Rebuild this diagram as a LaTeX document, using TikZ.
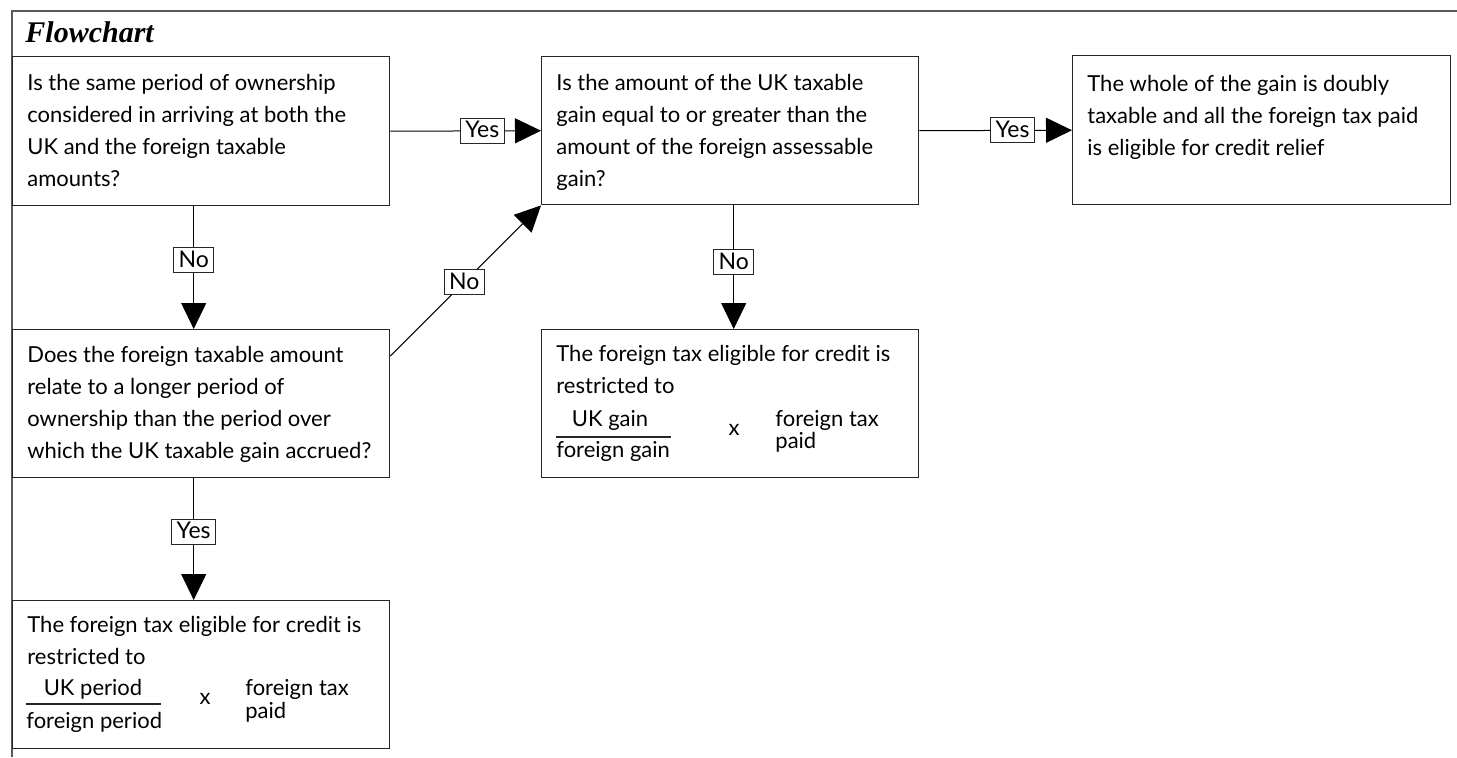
\documentclass[tikz,border=0pt]{standalone}
\usepackage{fontspec}
\setmainfont{Lato}
\newfontfamily\titlefont{Liberation Serif}
\usetikzlibrary{arrows.meta}
\begin{document}
\begin{tikzpicture}[x=0.5pt,y=-0.5pt,
 box/.style={draw=black!85, line width=0.7pt, anchor=north west, inner sep=0pt},
 txt/.style={anchor=base west, align=left, inner sep=0pt, font=\fontsize{11}{16}\selectfont},
 frc/.style={inner sep=0pt, font=\fontsize{11}{16}\selectfont},
 tight/.style={anchor=base west, align=left, inner sep=0pt, font=\fontsize{11}{11.25}\selectfont},
 lbl/.style={draw=black!85, line width=0.5pt, fill=white, inner xsep=2.4pt, inner ysep=1.5pt,
   text height=8.2pt, text depth=1.3pt, font=\fontsize{11.5}{12}\selectfont},
 arr/.style={line width=0.5pt, -{Triangle[length=13pt,width=12.5pt]}},
]
\useasboundingbox (0,0) rectangle (1457,757);
\draw[black!65, line width=1pt] (1457,11) -- (12,11) -- (12,757);
\node[anchor=base west, inner sep=0pt, font=\titlefont\bfseries\itshape\fontsize{15}{16}\selectfont] (title) at (25,42) {Flowchart};

% boxes
\node[box, minimum width=188.5pt, minimum height=74.5pt] (b1) at (12,56) {};
\node[box, minimum width=188.5pt, minimum height=74pt] (b2) at (541,56) {};
\node[box, minimum width=189pt, minimum height=74.5pt] (b3) at (1072,55) {};
\node[box, minimum width=188.5pt, minimum height=74pt] (b4) at (12,329) {};
\node[box, minimum width=188.5pt, minimum height=74pt] (b5) at (12,600) {};
\node[box, minimum width=188.5pt, minimum height=74pt] (b6) at (541,329) {};

% texts (anchored at the baseline of their last line)
\node[txt] (t1) at (27,186) {Is the same period of ownership\\considered in arriving at both the\\UK and the foreign taxable\\amounts?};
\node[txt] (t2) at (556,186) {Is the amount of the UK taxable\\gain equal to or greater than the\\amount of the foreign assessable\\gain?};
\node[txt] (t3) at (1087,155) {The whole of the gain is doubly\\taxable and all the foreign tax paid\\is eligible for credit relief};
\node[txt] (t4) at (27,458) {Does the foreign taxable amount\\relate to a longer period of\\ownership than the period over\\which the UK taxable gain accrued?};
\node[txt] (t5) at (27,664) {The foreign tax eligible for credit is\\restricted to};
\node[txt] (t6) at (556,393) {The foreign tax eligible for credit is\\restricted to};

% fraction box 5
\node[frc, anchor=base] (n5) at (93,695) {UK period};
\draw[black!85, line width=0.6pt] (26,704) -- (161,704);
\node[frc, anchor=base west] (d5) at (26,728) {foreign period};
\node[frc, anchor=base] (x5) at (205,704) {x};
\node[tight] (p5) at (245,718) {foreign tax\\paid};

% fraction box 6
\node[frc, anchor=base] (n6) at (610,426) {UK gain};
\draw[black!85, line width=0.6pt] (556,437) -- (671,437);
\node[frc, anchor=base west] (d6) at (556,457) {foreign gain};
\node[frc, anchor=base] (x6) at (734,435) {x};
\node[tight] (p6) at (775,448.5) {foreign tax\\paid};

% connectors
\draw[arr] (b1.east) -- node[lbl, pos=0.61] (l1) {Yes} (b2.west);
\draw[arr] (b2.east) -- node[lbl, pos=0.61] (l2) {Yes} (b3.west);
\draw[arr] ([xshift=-3.75pt]b1.south) -- node[lbl, pos=0.44] (l3) {No} ([xshift=-3.75pt]b4.north);
\draw[arr] ([xshift=-3.75pt]b4.south) -- node[lbl, pos=0.44] (l4) {Yes} ([xshift=-3.75pt]b5.north);
\draw[arr] ([xshift=1.75pt]b2.south) -- node[lbl, pos=0.46] (l5) {No} ([xshift=1.75pt]b6.north);
\draw[arr] ([yshift=-13.5pt]b4.north east) -- node[lbl, pos=0.49] (l6) {No} (b2.south west);
\end{tikzpicture}
\end{document}
